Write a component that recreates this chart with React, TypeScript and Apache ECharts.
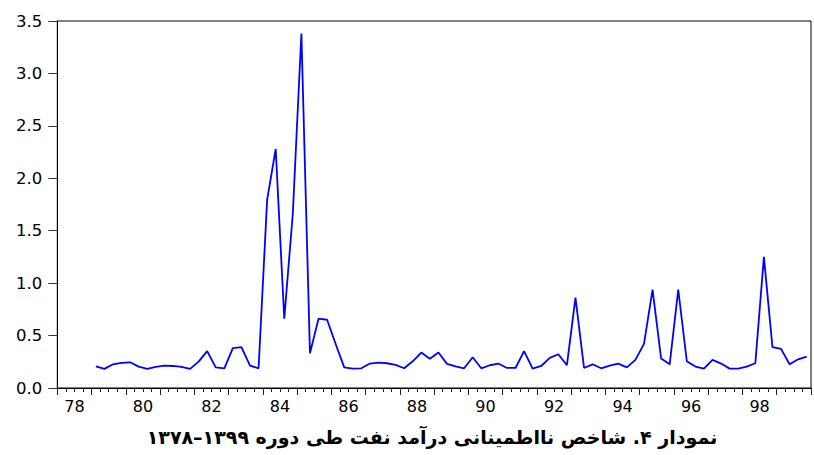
import React, { useEffect, useRef } from 'react';
import * as echarts from 'echarts';

// x-axis tick labels (years 13xx), one every two years, centred on the year
const xTickLabels = ['78', '80', '82', '84', '86', '88', '90', '92', '94', '96', '98'];
// y-axis tick labels
const yTickLabels = ['0.0', '0.5', '1.0', '1.5', '2.0', '2.5', '3.0', '3.5'];
// axis spans 1378Q1 .. 1399Q4 (88 quarters); data begins at 1379Q1
const totalQuarters = 88;
const firstQuarterOffset = 4;
// quarterly oil-revenue uncertainty index, 1379Q1 .. 1399Q4
const uncertainty = [
  0.207, 0.182, 0.226, 0.239, 0.245, 0.204, 0.182, 0.201,
  0.214, 0.210, 0.201, 0.182, 0.252, 0.351, 0.197, 0.188,
  0.380, 0.389, 0.214, 0.188, 1.794, 2.280, 0.661, 1.667,
  3.381, 0.332, 0.661, 0.651, 0.420, 0.197, 0.185, 0.188,
  0.233, 0.242, 0.236, 0.220, 0.188, 0.255, 0.338, 0.278,
  0.338, 0.230, 0.207, 0.188, 0.293, 0.188, 0.217, 0.233,
  0.191, 0.191, 0.351, 0.185, 0.210, 0.287, 0.322, 0.217,
  0.862, 0.191, 0.226, 0.188, 0.214, 0.233, 0.197, 0.268,
  0.421, 0.939, 0.281, 0.226, 0.939, 0.255, 0.204, 0.185,
  0.268, 0.233, 0.185, 0.185, 0.204, 0.236, 1.251, 0.389,
  0.373, 0.226, 0.274, 0.300,
];
const titleText = 'نمودار ۴. شاخص نااطمینانی درآمد نفت طی دوره ۱۳۹۹–۱۳۷۸';

export default function App() {
  const ref = useRef<HTMLDivElement>(null);
  useEffect(() => {
    const chart = echarts.init(ref.current!, null, { renderer: 'svg' });
    const data = uncertainty.map((v, i) => [firstQuarterOffset + i + 0.5, v]);
    const font = 'DejaVu Sans';
    chart.setOption({
      animation: false,
      backgroundColor: '#ffffff',
      grid: {
        left: 57.3, right: 0.7, top: 21, bottom: 67,
        show: true, borderColor: '#000', borderWidth: 1,
        backgroundColor: 'transparent', containLabel: false,
      },
      xAxis: [
        {
          type: 'value', min: 0, max: totalQuarters, interval: 1, position: 'bottom',
          axisLine: { show: true, onZero: false, lineStyle: { color: '#000', width: 1 } },
          axisTick: { show: true, length: 4, lineStyle: { color: '#222', width: 1 } },
          axisLabel: { show: false },
          splitLine: { show: false },
        },
        {
          type: 'value', min: 0, max: totalQuarters, interval: 4, position: 'bottom',
          axisLine: { show: false, onZero: false },
          axisTick: { show: true, length: 7, lineStyle: { color: '#222', width: 1 } },
          axisLabel: { show: false },
          splitLine: { show: false },
        },
        {
          type: 'value', min: 0, max: totalQuarters, interval: 2, position: 'bottom',
          axisLine: { show: false, onZero: false },
          axisTick: { show: false },
          axisLabel: {
            show: true, margin: 10, color: '#000', fontSize: 16, fontFamily: font,
            formatter: (v: number) => {
              const k = (v - 2) / 8;
              return Number.isInteger(k) && k >= 0 && k < xTickLabels.length ? xTickLabels[k] : '';
            },
          },
          splitLine: { show: false },
        },
      ],
      yAxis: {
        type: 'value', min: 0, max: 3.5, interval: 0.5,
        axisLine: { show: true, onZero: false, lineStyle: { color: '#000', width: 1 } },
        axisTick: { show: true, length: 9, lineStyle: { color: '#333', width: 1 } },
        axisLabel: {
          margin: 15, color: '#000', fontSize: 16.5, fontFamily: font,
          formatter: (v: number) => yTickLabels[Math.round(v / 0.5)] ?? '',
        },
        splitLine: { show: false },
      },
      series: [
        {
          type: 'line', xAxisIndex: 0, yAxisIndex: 0, data,
          symbol: 'none', showSymbol: false, silent: true,
          lineStyle: { color: '#0000ff', width: 1.8 },
        },
      ],
      graphic: [
        {
          type: 'text', x: 432, y: 437,
          style: {
            text: titleText, align: 'center', verticalAlign: 'middle',
            fontSize: 19, fontWeight: 'bold', fontFamily: font, fill: '#000',
          },
        },
      ],
    });
    return () => chart.dispose();
  }, []);
  return (
    <div
      ref={ref}
      style={{ position: 'fixed', left: 0, top: 0, width: 814, height: 455, background: '#fff' }}
    />
  );
}
